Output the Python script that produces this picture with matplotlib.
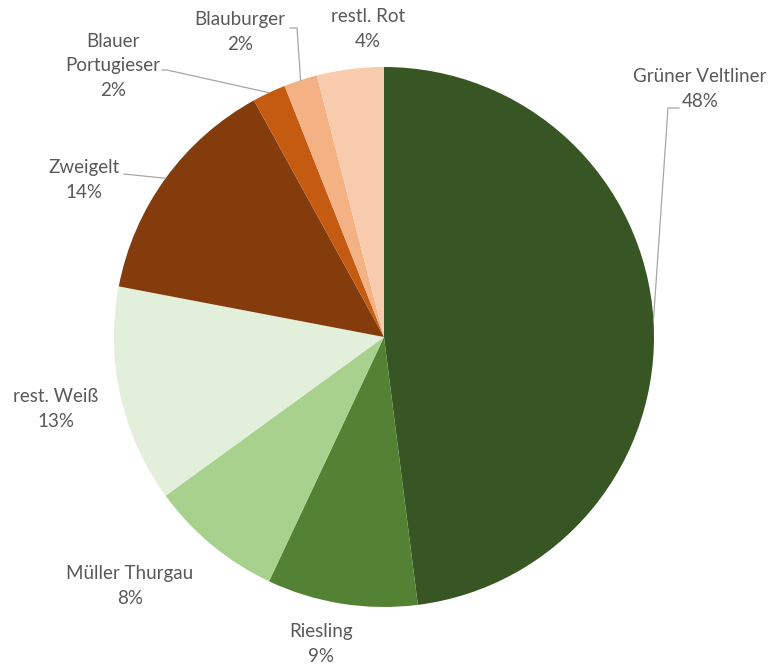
import numpy as np
import matplotlib
matplotlib.use("Agg")
import matplotlib.pyplot as plt

# Rebsorten-Anteile, im Uhrzeigersinn ab 12 Uhr
sorten = ["Grüner Veltliner", "Riesling", "Müller Thurgau", "rest. Weiß",
          "Zweigelt", "Blauer\nPortugieser", "Blauburger", "restl. Rot"]
anteile = [48, 9, 8, 13, 14, 2, 2, 4]
farben = ["#375623", "#548235", "#A9D18E", "#E2EFDA",
          "#843C0C", "#C55A11", "#F4B183", "#F8CBAD"]

W, H = 771, 666
fig = plt.figure(figsize=(W / 100, H / 100), dpi=100)
ax = fig.add_axes([0, 0, 1, 1])

cx, cy, r = 384, H - 337, 270
wedges, _ = ax.pie(anteile, colors=farben, startangle=90, counterclock=False,
                   center=(cx, cy), radius=r, frame=True,
                   wedgeprops=dict(linewidth=0))
ax.set_xlim(0, W)
ax.set_ylim(0, H)
ax.set_aspect("equal")
ax.axis("off")

txt = dict(fontsize=13.5, color="#595959", ha="center", va="center",
           family=["Lato", "DejaVu Sans"], linespacing=1.55)

# Beschriftungsposition (Pixel, y von oben) je Segment
label_pos = [(700, 89), (321, 644), (130, 586), (56, 409),
             (84, 180), (113, 66), (240, 32), (368, 29)]
for name, val, (lx, ly) in zip(sorten, anteile, label_pos):
    ax.text(lx, H - ly, f"{name}\n{val}%", **txt)


def rand(w):
    a = np.deg2rad((w.theta1 + w.theta2) / 2)
    return cx + r * np.cos(a), cy + r * np.sin(a)


# Führungslinien (Knickpunkte in Pixeln)
leader = {0: [(679, 108), (668, 108)],
          4: [(124, 174)],
          5: [(162, 70), (167, 70)],
          6: [(290, 28), (297, 28)]}
for i, pts in leader.items():
    ex, ey = rand(wedges[i])
    xs = [p[0] for p in pts] + [ex]
    ys = [H - p[1] for p in pts] + [ey]
    ax.plot(xs, ys, color="#A6A6A6", lw=0.9)

fig.savefig("out.png", dpi=100, facecolor="white")
